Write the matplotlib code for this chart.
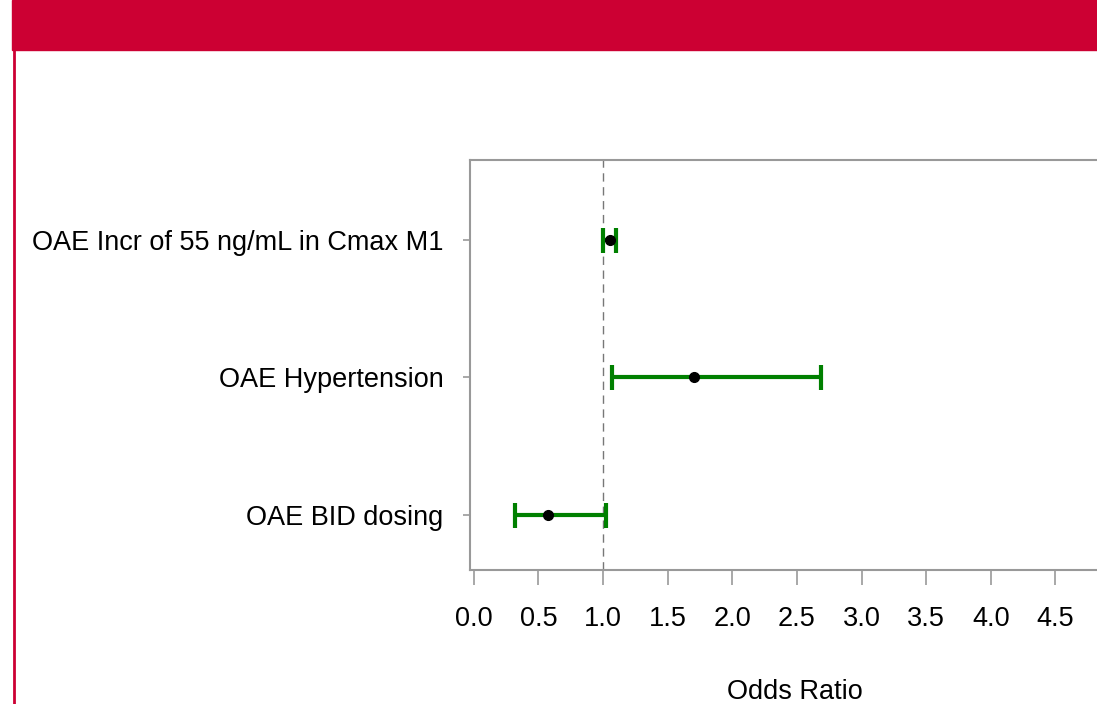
import matplotlib.pyplot as plt
from matplotlib.lines import Line2D
from matplotlib.patches import Rectangle

# data
labels = ["OAE Incr of 55 ng/mL in Cmax M1", "OAE Hypertension", "OAE BID dosing"]
odds = [1.05, 1.70, 0.57]
lower = [1.00, 1.07, 0.32]
upper = [1.10, 2.69, 1.02]
xticks = [0.0, 0.5, 1.0, 1.5, 2.0, 2.5, 3.0, 3.5, 4.0, 4.5, 5.0]

red = "#cc0033"
green = "#008000"
plt.rcParams["font.family"] = ["Liberation Sans", "DejaVu Sans"]
fs = 19.5

fig = plt.figure(figsize=(10.97, 7.04), dpi=100)

# red banner and left border
fig.patches.append(Rectangle((12 / 1097, 1 - 50 / 704), 1, 50 / 704,
                             transform=fig.transFigure, color=red, zorder=0))
fig.lines.append(Line2D([13.5 / 1097, 13.5 / 1097], [0, 1 - 49 / 704],
                        transform=fig.transFigure, color=red, lw=2))

ax = fig.add_axes([470 / 1097, 134 / 704, 650 / 1097, 410 / 704])

ypos = [3, 2, 1]
err_lo = [o - l for o, l in zip(odds, lower)]
err_hi = [u - o for o, u in zip(odds, upper)]
ax.errorbar(odds, ypos, xerr=[err_lo, err_hi], fmt="none", ecolor=green,
            elinewidth=3, capsize=9, capthick=3, zorder=3)
ax.plot(odds, ypos, "o", color="black", ms=7, zorder=4)
ax.axvline(1.0, color="#777777", lw=1, ls=(0, (6, 4)), zorder=1)

ax.set_xlim(-0.03, 5.0)
ax.set_ylim(0.6, 3.58)
ax.set_xticks(xticks)
ax.set_xticklabels([f"{t:.1f}" for t in xticks])
ax.set_yticks(ypos)
ax.set_yticklabels(labels)
ax.tick_params(axis="x", length=11, width=1.2, color="#999999", labelsize=fs, pad=15)
ax.tick_params(axis="y", length=5, width=1.2, color="#999999", labelsize=fs, pad=14)
for s in ax.spines.values():
    s.set_color("#999999")
    s.set_linewidth(1.5)
ax.set_xlabel("Odds Ratio", fontsize=fs, labelpad=34)

fig.savefig("out.png", dpi=100)
